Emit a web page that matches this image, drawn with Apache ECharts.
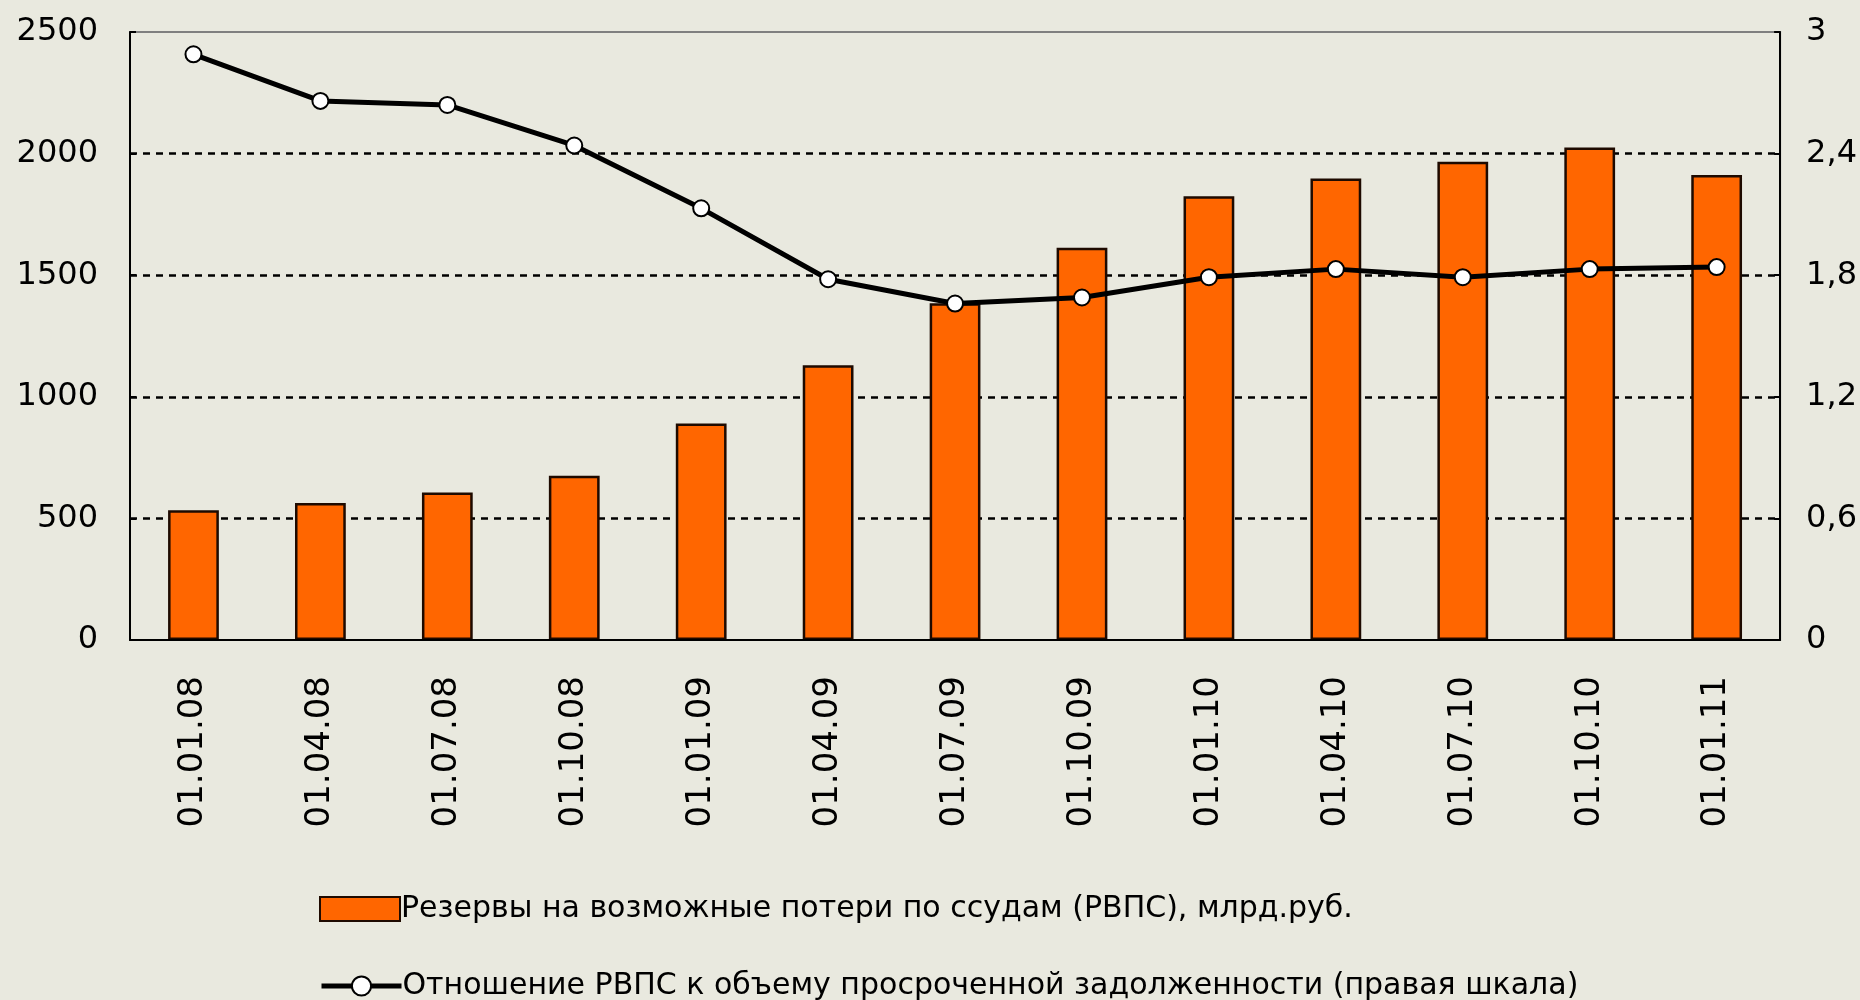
<!DOCTYPE html>
<html>
<head>
<meta charset="utf-8">
<script src="https://cdn.jsdelivr.net/npm/echarts@6/dist/echarts.min.js"></script>
<style>
  html,body{margin:0;padding:0;background:#e9e9df;}
  #main{width:1860px;height:1000px;}
</style>
</head>
<body>
<div id="main"></div>
<script>
// даты (ось X)
const dates=['01.01.08','01.04.08','01.07.08','01.10.08','01.01.09','01.04.09','01.07.09','01.10.09','01.01.10','01.04.10','01.07.10','01.10.10','01.01.11']
// РВПС, млрд.руб.
const reserves=[533,563,607,675,890,1130,1385,1613,1825,1898,1967,2025,1912]
// отношение РВПС к просрочке (правая шкала)
const ratio=[2.89,2.66,2.64,2.44,2.13,1.78,1.66,1.69,1.79,1.83,1.79,1.83,1.84]

const barName='Резервы на возможные потери по ссудам (РВПС), млрд.руб.'
const lineName='Отношение РВПС к объему просроченной задолженности (правая шкала)'

const font='DejaVu Sans'
const chart=echarts.init(document.getElementById('main'))

// общие настройки легенды, две строки - две легенды
const legendBase={
  left:314,
  itemWidth:80,
  itemHeight:24,
  textStyle:{fontFamily:font,fontSize:30,color:'#000',padding:[0,0,0,-4]}
}

let option={
  backgroundColor:'#e9e9df',
  animation:false,
  grid:{
    left:130,right:79,top:32,bottom:360,
    show:true,
    borderColor:'#808080',
    borderWidth:2
  },
  legend:[
    Object.assign({},legendBase,{
      top:889,
      data:[{name:barName,icon:'rect'}]
    }),
    Object.assign({},legendBase,{
      top:966,
      lineStyle:{width:5,color:'#000'},
      data:[{name:lineName}]
    })
  ],
  xAxis:{
    type:'category',
    data:dates,
    axisLine:{lineStyle:{color:'#000',width:2}},
    axisTick:{show:false},
    axisLabel:{
      rotate:90,
      margin:36,
      fontFamily:font,
      fontSize:34,
      color:'#000'
    },
    z:5
  },
  yAxis:[
    {
      type:'value',
      min:0,max:2500,interval:500,
      axisLine:{show:true,lineStyle:{color:'#000',width:2}},
      axisTick:{show:true,inside:true,length:6,lineStyle:{color:'#000',width:2}},
      axisLabel:{margin:32,fontFamily:font,fontSize:32,color:'#000',formatter:v=>String(v)},
      splitLine:{showMinLine:false,showMaxLine:false,lineStyle:{color:'#000',width:2.5,type:[7,6]}}
    },
    {
      type:'value',
      min:0,max:3,interval:0.6,
      axisLine:{show:true,lineStyle:{color:'#000',width:2}},
      axisTick:{show:true,inside:true,length:6,lineStyle:{color:'#000',width:2}},
      axisLabel:{
        margin:26,fontFamily:font,fontSize:32,color:'#000',
        formatter:v=>String(+v.toFixed(1)).replace('.',',')
      },
      splitLine:{show:false}
    }
  ],
  series:[
    {
      name:barName,
      type:'bar',
      data:reserves,
      barWidth:'40%',
      itemStyle:{color:'#ff6600',borderColor:'#1e0a00',borderWidth:2.5}
    },
    {
      name:lineName,
      type:'line',
      yAxisIndex:1,
      data:ratio,
      symbol:'circle',
      symbolSize:16,
      lineStyle:{color:'#000',width:5},
      itemStyle:{color:'#fff',borderColor:'#000',borderWidth:2}
    }
  ]
}
chart.setOption(option)
</script>
</body>
</html>
